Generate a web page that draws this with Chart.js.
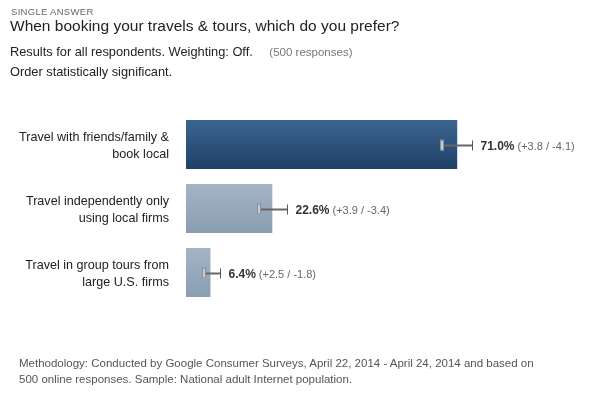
<!DOCTYPE html>
<html>
<head>
<meta charset="utf-8">
<script src="https://cdn.jsdelivr.net/npm/chart.js@4"></script>
<style>
  body { margin: 0; background: #fff; font-family: "Liberation Sans", Arial, sans-serif; }
  #wrap { position: relative; width: 590px; height: 398px; overflow: hidden; }
  #wrap canvas { position: absolute; left: 0; top: 0; }
  .t { position: absolute; left: 10px; white-space: nowrap; }
  .kind { top: 6px; left: 11px; font-size: 9.5px; color: #666; letter-spacing: 0.3px; }
  .title { top: 17px; font-size: 15.5px; color: #222; }
  .sub { font-size: 12.8px; color: #222; }
  .sub span { color: #777; font-size: 11.5px; margin-left: 13px; }
  .foot { left: 19px; font-size: 11.5px; color: #555; }
</style>
</head>
<body>
<div id="wrap">
  <canvas id="chart" width="590" height="398"></canvas>
  <div class="t kind">SINGLE ANSWER</div>
  <div class="t title">When booking your travels &amp; tours, which do you prefer?</div>
  <div class="t sub" style="top:44px">Results for all respondents. Weighting: Off. <span>(500 responses)</span></div>
  <div class="t sub" style="top:64px">Order statistically significant.</div>
  <div class="t foot" style="top:357px">Methodology: Conducted by Google Consumer Surveys, April 22, 2014 - April 24, 2014 and based on</div>
  <div class="t foot" style="top:373px">500 online responses. Sample: National adult Internet population.</div>
</div>
<script>
// DATA
const categories = [
  ["Travel with friends/family &", "book local"],
  ["Travel independently only", "using local firms"],
  ["Travel in group tours from", "large U.S. firms"],
];
const percents = [71.0, 22.6, 6.4];
const errPlus = [3.8, 3.9, 2.5];
const errMinus = [4.1, 3.4, 1.8];

/////////////////////////////////////////////////////////////
// error bars + value labels

const errorBars = {
  id: "errorBars",
  afterDatasetsDraw(chart) {
    const { ctx, scales: { x, y } } = chart;
    ctx.save();
    percents.forEach((v, i) => {
      const yc = Math.round(y.getPixelForValue(i)) + 0.5;
      const x1 = Math.round(x.getPixelForValue(v - errMinus[i]));
      const x2 = Math.round(x.getPixelForValue(v + errPlus[i])) + 0.5;

      ctx.strokeStyle = "#666";
      ctx.lineWidth = 2;
      ctx.beginPath();
      ctx.moveTo(x1, yc);
      ctx.lineTo(x2, yc);
      ctx.stroke();

      // left cap (light box)
      ctx.fillStyle = "#c8ccd2";
      ctx.fillRect(x1 - 1, yc - 5, 3, 10);
      ctx.strokeStyle = "#8a8f96";
      ctx.lineWidth = 1;
      ctx.strokeRect(x1 - 1.5, yc - 5.5, 3, 10);

      // right cap
      ctx.strokeStyle = "#555";
      ctx.beginPath();
      ctx.moveTo(x2, yc - 5);
      ctx.lineTo(x2, yc + 5);
      ctx.stroke();

      // labels
      let tx = x2 + 8;
      ctx.textBaseline = "middle";
      ctx.textAlign = "left";
      ctx.font = "bold 12px 'Liberation Sans', Arial";
      ctx.fillStyle = "#333";
      const main = v.toFixed(1) + "%";
      ctx.fillText(main, tx, yc + 1);
      tx += ctx.measureText(main).width + 3;
      ctx.font = "11px 'Liberation Sans', Arial";
      ctx.fillStyle = "#666";
      ctx.fillText("(+" + errPlus[i].toFixed(1) + " / -" + errMinus[i].toFixed(1) + ")", tx, yc + 1);
    });
    ctx.restore();
  },
};

// 1) setup
const ctx = document.getElementById("chart").getContext("2d");
const dark = ctx.createLinearGradient(0, 120, 0, 169);
dark.addColorStop(0, "#3b6690");
dark.addColorStop(1, "#1f4067");
const light2 = ctx.createLinearGradient(0, 184, 0, 232);
light2.addColorStop(0, "#a3b4c5");
light2.addColorStop(1, "#8a9db2");
const light3 = ctx.createLinearGradient(0, 248, 0, 297);
light3.addColorStop(0, "#a3b4c5");
light3.addColorStop(1, "#8a9db2");

const bar_data = {
  labels: categories,
  datasets: [
    {
      data: percents,
      backgroundColor: [dark, light2, light3],
      borderWidth: 0,
      categoryPercentage: 1,
      barPercentage: 0.766,
    },
  ],
};

// 2) config
const bar_config = {
  type: "bar",
  data: bar_data,
  options: {
    indexAxis: "y",
    responsive: false,
    animation: false,
    layout: { padding: { top: 112.5, bottom: 93.5, left: 0, right: 22 } },
    scales: {
      x: { display: false, min: 0, max: 100 },
      y: {
        grid: { display: false },
        border: { display: false },
        ticks: {
          color: "#222",
          font: { family: "'Liberation Sans', Arial", size: 12.6, lineHeight: 1.35 },
          padding: 9,
          labelOffset: 2,
        },
        afterFit(scale) {
          scale.width = 186;
        },
      },
    },
    plugins: {
      legend: { display: false },
      tooltip: { enabled: false },
    },
  },
  plugins: [errorBars],
};

// 3) render chart
new Chart(ctx, bar_config);
</script>
</body>
</html>
